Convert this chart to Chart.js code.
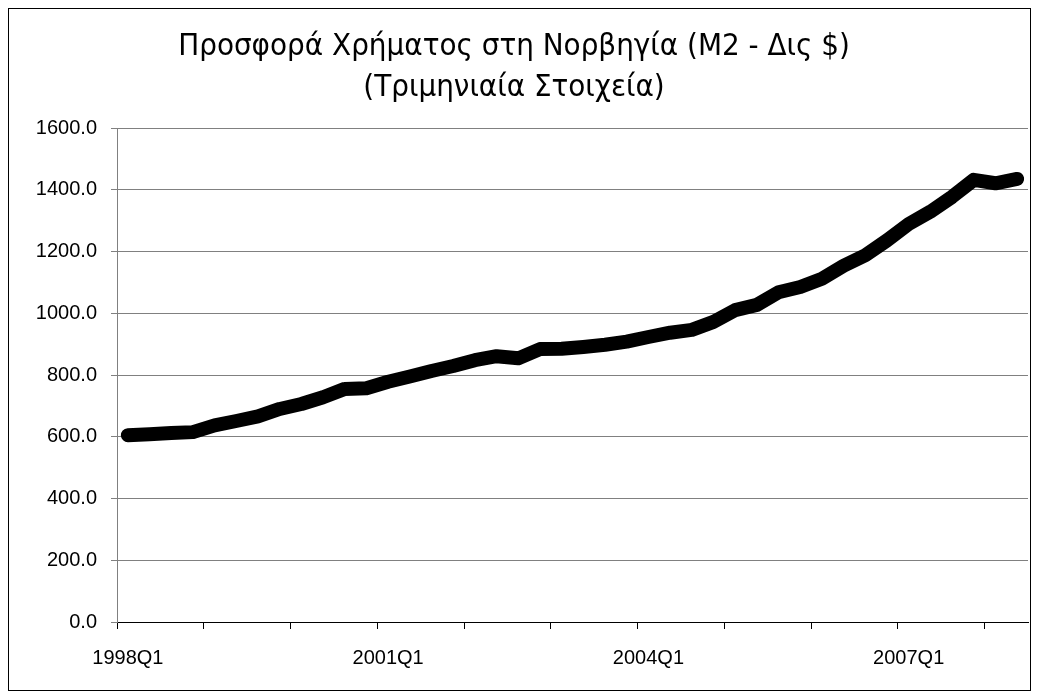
<!DOCTYPE html>
<html>
<head>
<meta charset="utf-8">
<script src="https://cdn.jsdelivr.net/npm/chart.js@4/dist/chart.umd.min.js"></script>
<style>
  html, body { margin: 0; padding: 0; background: #fff; }
  #wrap { width: 1039px; height: 693px; }
</style>
</head>
<body>
<div id="wrap"><canvas id="m2-chart" width="1039" height="693"></canvas></div>
<script>
// Τρίμηνα
var quarters = [
    "1998Q1", "1998Q2", "1998Q3", "1998Q4",
    "1999Q1", "1999Q2", "1999Q3", "1999Q4",
    "2000Q1", "2000Q2", "2000Q3", "2000Q4",
    "2001Q1", "2001Q2", "2001Q3", "2001Q4",
    "2002Q1", "2002Q2", "2002Q3", "2002Q4",
    "2003Q1", "2003Q2", "2003Q3", "2003Q4",
    "2004Q1", "2004Q2", "2004Q3", "2004Q4",
    "2005Q1", "2005Q2", "2005Q3", "2005Q4",
    "2006Q1", "2006Q2", "2006Q3", "2006Q4",
    "2007Q1", "2007Q2", "2007Q3", "2007Q4",
    "2008Q1", "2008Q2"
];

// Μ2 σε δισ. (εκτίμηση από το γράφημα)
var m2Values = [
    605, 608, 612, 615,
    637, 651, 666, 690,
    706, 728, 755, 757,
    778, 795, 813, 829,
    848, 861, 854, 884,
    885, 891, 898, 908,
    923, 937, 946, 972,
    1010, 1027, 1068, 1085,
    1112, 1154, 1188, 1236,
    1289, 1329, 1377, 1432,
    1421, 1435
];

var titleLines = ["Προσφορά Χρήματος στη Νορβηγία (Μ2 - Δις $)", "(Τριμηνιαία Στοιχεία)"];
var yMin = 0, yMax = 1600, yStep = 200;

var tickFont = { family: "'Liberation Sans', Arial, sans-serif", size: 20 };

// πλαίσιο γύρω από όλο το γράφημα
var framePlugin = {
    id: "frame",
    afterDraw: function (chart) {
        var c = chart.ctx;
        c.save();
        c.strokeStyle = "#000";
        c.lineWidth = 1;
        c.strokeRect(8.5, 8.5, 1022, 682);
        c.restore();
    }
};

var ctx = document.getElementById("m2-chart").getContext("2d");
var m2Chart = new Chart(ctx, {
    type: "line",
    data: {
        labels: quarters,
        datasets: [
            {
                label: "M2",
                data: m2Values,
                borderColor: "#000",
                borderWidth: 14,
                borderCapStyle: "round",
                borderJoinStyle: "round",
                pointRadius: 0,
                tension: 0,
                fill: false
            }
        ]
    },
    options: {
        responsive: false,
        animation: false,
        layout: { padding: { left: 0, right: 11, top: 0, bottom: 0 } },
        plugins: {
            legend: { display: false },
            tooltip: { enabled: false },
            title: {
                display: true,
                text: titleLines,
                color: "#000",
                font: { family: "'DejaVu Sans Condensed', 'DejaVu Sans', sans-serif", size: 31, weight: "normal", lineHeight: "41px" },
                padding: { top: 26, bottom: 20 }
            }
        },
        scales: {
            x: {
                offset: true,
                grid: {
                    offset: true,
                    drawOnChartArea: false,
                    drawTicks: true,
                    tickLength: 7,
                    color: function (c) {
                        return (c.index % 4 === 0) ? "#000" : "rgba(0,0,0,0)";
                    }
                },
                border: { color: "#000", width: 1 },
                ticks: {
                    autoSkip: false,
                    maxRotation: 0,
                    color: "#000",
                    padding: 17,
                    font: tickFont,
                    callback: function (val, i) {
                        return (i % 12 === 0) ? quarters[i] : "";
                    }
                },
                afterFit: function (s) { s.height = 71; }
            },
            y: {
                min: yMin,
                max: yMax,
                grid: {
                    color: "#808080",
                    tickLength: 6
                },
                border: { color: "#808080" },
                ticks: {
                    stepSize: yStep,
                    color: "#000",
                    padding: 14,
                    font: tickFont,
                    callback: function (v) { return v.toFixed(1); }
                },
                afterFit: function (s) { s.width = 117; }
            }
        }
    },
    plugins: [framePlugin]
});
</script>
</body>
</html>
